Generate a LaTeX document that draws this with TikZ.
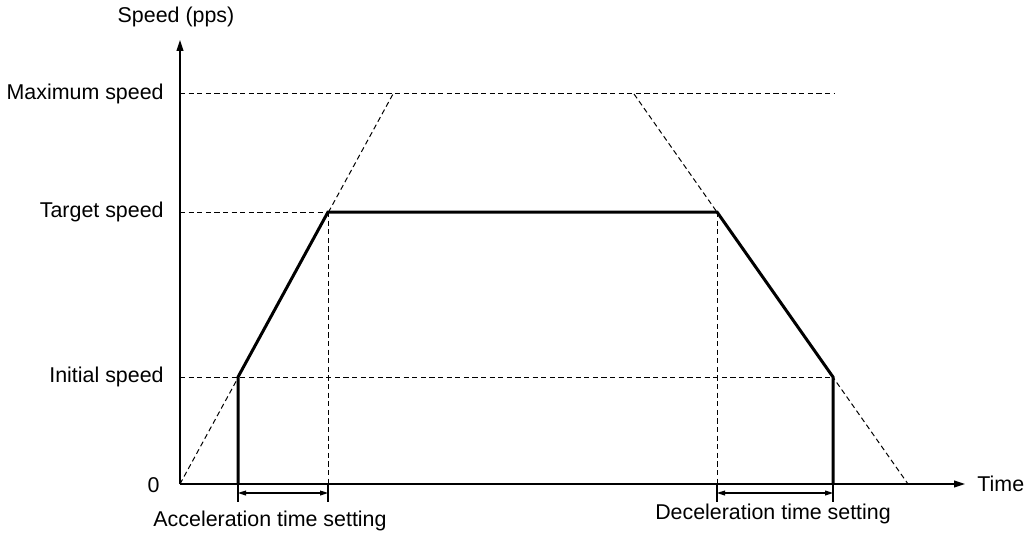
\documentclass[tikz,border=0pt]{standalone}
\usepackage{fontspec}
\setmainfont{Liberation Sans}
\usetikzlibrary{arrows.meta}
\begin{document}
\begin{tikzpicture}[x=0.5pt,y=-0.5pt,
  axis/.style={line width=0.75pt,-{Triangle[length=5.5pt,width=3.4pt]}},
  guide/.style={line width=0.5pt,dash pattern=on 2.6pt off 1.7pt},
  profile/.style={line width=1.5pt},
  dimline/.style={line width=0.6pt,{Triangle[length=4pt,width=2.4pt]}-{Triangle[length=4pt,width=2.4pt]}},
  tick/.style={line width=0.6pt},
  lbl/.style={font=\fontsize{10.7}{12}\selectfont,inner sep=0pt}]
  \useasboundingbox (0,0) rectangle (1026,535);

  % axes
  \coordinate (O) at (180,484);
  \coordinate (Ytop) at (180,40);
  \coordinate (Xend) at (965,484);
  \draw[axis] (O) -- (Ytop);
  \draw[axis] (O) -- (Xend);
  \node[lbl] (Vlabel) at (176,17) {Speed (pps)};
  \node[lbl,anchor=west] (Tlabel) at (977,484) {Time};
  \node[lbl,anchor=east] (Zero) at (160,485) {0};

  % speed levels
  \coordinate (Vmax) at (180,94);
  \coordinate (Vtgt) at (180,212);
  \coordinate (Vini) at (180,377);
  \node[lbl,anchor=east] (MaxL) at (164,94) {Maximum speed};
  \node[lbl,anchor=east] (TgtL) at (164,212) {Target speed};
  \node[lbl,anchor=east] (IniL) at (164,377) {Initial speed};

  % corners of the profile
  \coordinate (A0) at (238,484);
  \coordinate (A1) at (238,377);
  \coordinate (A2) at (328,212);
  \coordinate (D1) at (717,212);
  \coordinate (D2) at (833,377);
  \coordinate (D0) at (833,484);
  \coordinate (A2b) at (328,484);
  \coordinate (D1b) at (717,484);

  % guide lines
  \draw[guide] (Vmax) -- (835,94);
  \draw[guide] (Vtgt) -- (A2);
  \draw[guide] (Vini) -- (D2);
  \draw[guide] (O) -- (393,94);
  \draw[guide] (634,94) -- (908,484);
  \draw[guide] (A2) -- (A2b);
  \draw[guide] (D1) -- (D1b);

  % speed profile
  \draw[profile] (A0) -- (A1) -- (A2) -- (D1) -- (D2) -- (D0);

  % time settings
  \foreach \p in {A0,A2b,D1b,D0}
    \draw[tick] (\p) -- ++(0,18);
  \draw[dimline] ([yshift=-4.5pt]A0) -- ([yshift=-4.5pt]A2b);
  \draw[dimline] ([yshift=-4.5pt]D1b) -- ([yshift=-4.5pt]D0);
  \node[lbl] (AccL) at (270,521) {Acceleration time setting};
  \node[lbl] (DecL) at (773,514) {Deceleration time setting};
\end{tikzpicture}
\end{document}
